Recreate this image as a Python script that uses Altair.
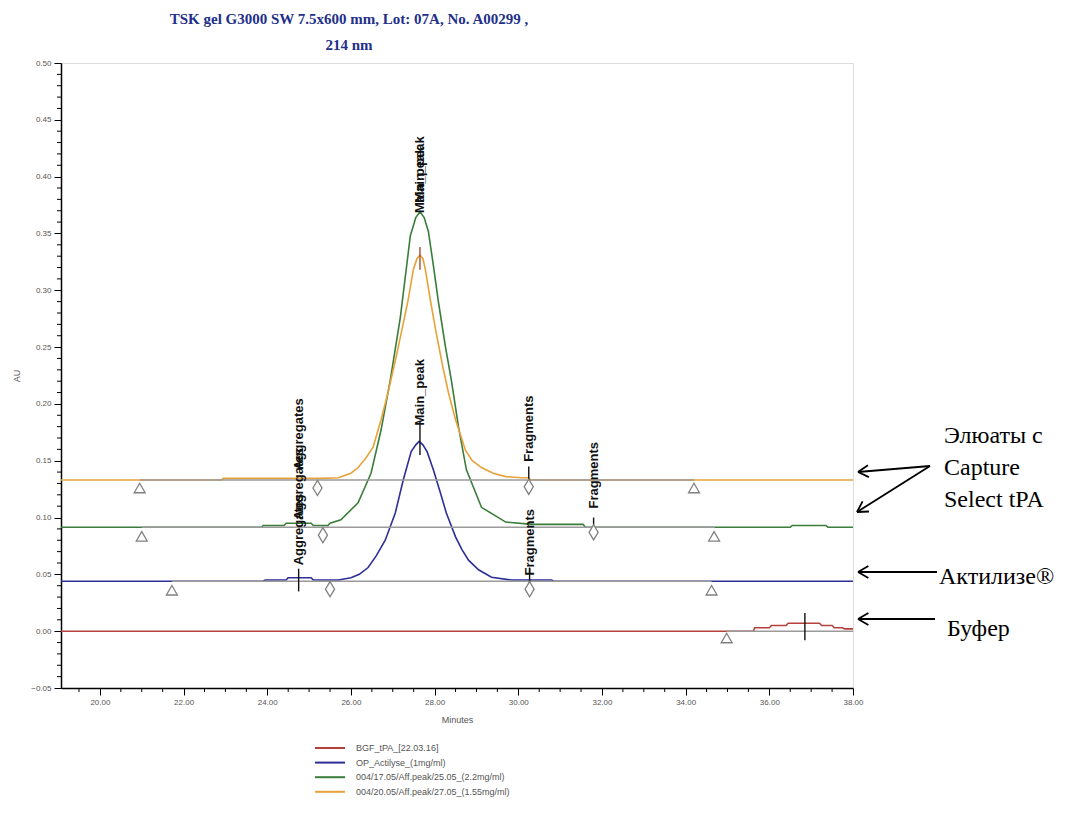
import altair as alt
import pandas as pd

# ---------------- data ----------------
SERIES = [
    "BGF_tPA_[22.03.16]",
    "OP_Actilyse_(1mg/ml)",
    "004/17.05/Aff.peak/25.05_(2.2mg/ml)",
    "004/20.05/Aff.peak/27.05_(1.55mg/ml)",
]
COLORS = ["#b5413c", "#2c2f96", "#3a7d3a", "#e8a23a"]

T_RED = [19.07, 35.62, 35.65, 36.0, 36.05, 36.4, 36.45, 37.2, 37.25, 37.5, 37.55, 37.75, 37.8, 38.0]
V_RED = [0.0, 0.0, 0.003, 0.003, 0.005, 0.005, 0.007, 0.007, 0.005, 0.005, 0.003, 0.003, 0.002, 0.002]

T_BLUE = [19.07, 23.9, 23.95, 24.45, 24.5, 25.05, 25.1, 25.7, 26.0, 26.2, 26.41, 26.6, 26.82, 27.06,
          27.25, 27.44, 27.55, 27.63, 27.72, 27.82, 27.97, 28.12, 28.28, 28.5, 28.65, 28.81, 29.05,
          29.36, 29.84, 30.4, 30.8, 30.85, 38.0]
V_BLUE = [0.044, 0.044, 0.045, 0.045, 0.047, 0.047, 0.045, 0.045, 0.047, 0.050, 0.056, 0.066, 0.080, 0.104,
          0.133, 0.158, 0.164, 0.167, 0.164, 0.158, 0.142, 0.124, 0.104, 0.083, 0.072, 0.0625, 0.054,
          0.0475, 0.045, 0.045, 0.045, 0.044, 0.044]

T_GREEN = [19.07, 23.87, 23.9, 24.4, 24.45, 25.05, 25.1, 25.45, 25.5, 25.76, 26.17, 26.48, 26.72, 26.94,
           27.18, 27.3, 27.42, 27.55, 27.65, 27.75, 27.85, 27.97, 28.09, 28.26, 28.4, 28.57, 28.76,
           29.12, 29.7, 30.32, 31.55, 31.6, 36.5, 36.55, 37.35, 37.4, 38.0]
V_GREEN = [0.0915, 0.0915, 0.093, 0.093, 0.095, 0.095, 0.093, 0.093, 0.095, 0.098, 0.113, 0.139, 0.177, 0.221,
           0.276, 0.312, 0.348, 0.364, 0.369, 0.364, 0.352, 0.322, 0.290, 0.250, 0.221, 0.180, 0.142,
           0.109, 0.096, 0.094, 0.094, 0.0915, 0.0915, 0.093, 0.093, 0.0915, 0.0915]

T_ORANGE = [19.07, 22.9, 22.95, 25.3, 25.7, 26.0, 26.17, 26.35, 26.53, 26.72, 26.9, 27.06, 27.2, 27.37,
            27.49, 27.58, 27.65, 27.72, 27.78, 27.9, 28.04, 28.2, 28.33, 28.5, 28.74, 28.9, 29.12, 29.4,
            29.7, 30.08, 30.25, 30.3, 38.0]
V_ORANGE = [0.133, 0.133, 0.1345, 0.1345, 0.135, 0.139, 0.144, 0.152, 0.162, 0.186, 0.212, 0.238, 0.262, 0.292,
            0.318, 0.328, 0.331, 0.328, 0.318, 0.291, 0.262, 0.232, 0.210, 0.186, 0.159, 0.150, 0.144, 0.139,
            0.136, 0.135, 0.135, 0.133, 0.133]

# integration baselines (start, end, level)
BASE_T1 = [20.95, 21.0, 21.72, 34.98]
BASE_T2 = [34.2, 34.7, 34.62, 38.0]
BASE_V = [0.133, 0.0915, 0.044, 0.0]

# baseline start/end markers
TRI_T = [20.95, 21.0, 21.72, 34.2, 34.68, 34.62, 34.98]
TRI_V = [0.126, 0.0835, 0.036, 0.126, 0.0835, 0.036, -0.006]
DIA_T = [25.2, 30.25, 25.33, 31.8, 25.5, 30.27]
DIA_V = [0.126, 0.127, 0.0845, 0.087, 0.037, 0.037]

# peak apex ticks
TICK_T = [24.75, 27.65, 30.27, 27.65, 30.25, 31.8, 36.85]
TICK_V1 = [0.035, 0.155, 0.034, 0.318, 0.124, 0.085, -0.008]
TICK_V2 = [0.055, 0.185, 0.056, 0.338, 0.145, 0.100, 0.016]
TICK_C = ["k", "k", "k", "o", "k", "k", "k"]

# peak names
LAB_TEXT = ["Aggregates", "Aggregates", "Aggregates", "Main_peak", "Main_peak", "Main_peak",
            "Fragments", "Fragments", "Fragments"]
LAB_T = [24.75, 24.75, 24.75, 27.65, 27.65, 27.65, 30.25, 30.27, 31.8]
LAB_V = [0.058, 0.098, 0.142, 0.181, 0.368, 0.377, 0.149, 0.049, 0.108]

TITLE = ["TSK gel G3000 SW 7.5x600 mm, Lot: 07A, No. A00299 ,", "214 nm"]
NOTE_TEXT = ["Элюаты с", "Capture", "Select tPA", "Актилизе®", "Буфер"]

# ---------------- tables ----------------
frames = []
for name, ts, vs in zip(SERIES, [T_RED, T_BLUE, T_GREEN, T_ORANGE], [V_RED, V_BLUE, V_GREEN, V_ORANGE]):
    frames.append(pd.DataFrame({"series": name, "t": ts, "v": vs}))
traces = pd.concat(frames, ignore_index=True)

base_df = pd.DataFrame({"t1": BASE_T1, "t2": BASE_T2, "v": BASE_V})
tri_df = pd.DataFrame({"t": TRI_T, "v": TRI_V})
dia_df = pd.DataFrame({"t": DIA_T, "v": DIA_V})
tick_df = pd.DataFrame({"t": TICK_T, "v1": TICK_V1, "v2": TICK_V2, "c": TICK_C})
lab_df = pd.DataFrame({"t": LAB_T, "v": LAB_V, "text": LAB_TEXT})

W, H = 792, 625
X0, Y0 = 61, 63  # plot origin on the page (for annotation layout)

note_df = pd.DataFrame({
    "text": NOTE_TEXT,
    "px": [944 - X0, 944 - X0, 944 - X0, 939 - X0, 947 - X0],
    "py": [436 - Y0, 468 - Y0, 500 - Y0, 577 - Y0, 629 - Y0],
})
arrow_df = pd.DataFrame({
    "x1": [869, 869, 876, 874, 797, 797, 796, 796, 797, 797, 797, 797],
    "y1": [403, 403, 509, 556, 409, 409, 449, 449, 509, 509, 556, 556],
    "x2": [797, 796, 797, 797, 807.9, 806.9, 808.0, 801.6, 807.4, 807.4, 807.4, 807.4],
    "y2": [409, 449, 509, 556, 414.1, 402.2, 448.5, 438.4, 515, 503, 562, 550],
})

# legend layout (below the plot)
leg_df = pd.DataFrame({
    "series": SERIES,
    "lx1": [315 - X0] * 4,
    "lx2": [345 - X0] * 4,
    "tx": [356 - X0] * 4,
    "ly": [748 - Y0 + i * 14.6 for i in range(4)],
})

xs = alt.Scale(domain=[19.07, 38.0], nice=False, zero=False)
ys = alt.Scale(domain=[-0.05, 0.50], nice=False, zero=False)
cs = alt.Scale(domain=SERIES, range=COLORS)

minor_y = pd.DataFrame({"v": [round(-0.05 + i * 0.01, 3) for i in range(56) if i % 5 != 0]})
minor_x = pd.DataFrame({"t": [19.5 + i * 0.5 for i in range(38) if (19.5 + i * 0.5) % 2 != 0 and 19.5 + i * 0.5 <= 38]})

lines = alt.Chart(traces).mark_line(strokeWidth=1.6).encode(
    x=alt.X("t:Q", scale=xs, title="Minutes",
            axis=alt.Axis(values=[20, 22, 24, 26, 28, 30, 32, 34, 36, 38], format=".2f",
                          labelFontSize=8, labelColor="#555", tickSize=7, tickColor="black",
                          domainColor="black", domainWidth=1.5, grid=False, labelPadding=3,
                          titleFontSize=9, titleColor="#555", titleFontWeight="normal", titlePadding=9,
                          labelFlush=False)),
    y=alt.Y("v:Q", scale=ys, title="AU",
            axis=alt.Axis(values=[-0.05, 0.0, 0.05, 0.10, 0.15, 0.20, 0.25, 0.30, 0.35, 0.40, 0.45, 0.50],
                          format=".2f", labelFontSize=8, labelColor="#555", tickSize=7,
                          tickColor="black", domainColor="black", domainWidth=1.5, grid=False,
                          labelPadding=3, titleFontSize=9, titleColor="#555",
                          titleFontWeight="normal", titlePadding=9, labelFlush=False)),
    color=alt.Color("series:N", scale=cs, sort=SERIES, legend=None),
    order=alt.Order("t:Q"),
)

baselines = alt.Chart(base_df).mark_rule(color="#9a9a9a", strokeWidth=1.6).encode(
    x=alt.X("t1:Q", scale=xs), x2="t2:Q", y=alt.Y("v:Q", scale=ys))

ticks = alt.Chart(tick_df).mark_rule(strokeWidth=1.4).encode(
    x=alt.X("t:Q", scale=xs), y=alt.Y("v1:Q", scale=ys), y2="v2:Q",
    color=alt.Color("c:N", scale=alt.Scale(domain=["k", "o"], range=["#111111", "#a0522d"]), legend=None))

tris = alt.Chart(tri_df).mark_point(shape="triangle-up", size=120, filled=True, fill="white",
                                    stroke="#808080", strokeWidth=1.3, opacity=1).encode(
    x=alt.X("t:Q", scale=xs), y=alt.Y("v:Q", scale=ys))

dias = alt.Chart(dia_df).mark_point(shape="M0,-1L0.6,0L0,1L-0.6,0Z", size=230, filled=True, fill="white",
                                    stroke="#808080", strokeWidth=1.3, opacity=1).encode(
    x=alt.X("t:Q", scale=xs), y=alt.Y("v:Q", scale=ys))

labels = alt.Chart(lab_df).mark_text(angle=270, align="left", baseline="middle", font="Liberation Sans",
                                     fontSize=13, fontWeight="bold", color="#111111").encode(
    x=alt.X("t:Q", scale=xs), y=alt.Y("v:Q", scale=ys), text="text:N")

yminor = alt.Chart(minor_y).mark_rule(color="black", strokeWidth=1).encode(
    y=alt.Y("v:Q", scale=ys), x=alt.value(-4), x2=alt.value(0))
xminor = alt.Chart(minor_x).mark_rule(color="black", strokeWidth=1).encode(
    x=alt.X("t:Q", scale=xs), y=alt.value(H), y2=alt.value(H + 4))

notes = alt.Chart(note_df).mark_text(align="left", baseline="middle", font="Liberation Serif",
                                     fontSize=24, color="black").encode(
    x=alt.X("px:Q", scale=None), y=alt.Y("py:Q", scale=None), text="text:N")

arrows = alt.Chart(arrow_df).mark_rule(color="black", strokeWidth=1.8).encode(
    x=alt.X("x1:Q", scale=None), y=alt.Y("y1:Q", scale=None),
    x2="x2:Q", y2="y2:Q")

leg_lines = alt.Chart(leg_df).mark_rule(strokeWidth=2).encode(
    x=alt.X("lx1:Q", scale=None), x2="lx2:Q", y=alt.Y("ly:Q", scale=None),
    color=alt.Color("series:N", scale=cs, legend=None))
leg_text = alt.Chart(leg_df).mark_text(align="left", baseline="middle", font="Liberation Sans",
                                       fontSize=9, color="#555").encode(
    x=alt.X("tx:Q", scale=None), y=alt.Y("ly:Q", scale=None), text="series:N")

chart = alt.layer(lines, baselines, ticks, tris, dias, labels, yminor, xminor, notes, arrows,
                  leg_lines, leg_text).resolve_scale(
    color="independent"
).properties(
    width=W, height=H,
    title=alt.TitleParams(text=TITLE, font="Liberation Serif", fontSize=15, fontWeight="bold",
                          color="#22308a", anchor="middle", dx=-108, offset=6, lineHeight=26),
    autosize=alt.AutoSizeParams(type="none"),
    padding={"left": 53, "top": 55, "right": 205, "bottom": 120},
).configure_view(stroke="black", strokeWidth=1.5).configure(background="white")

chart.save("out.html", embed_options={"renderer": "svg", "actions": False})
